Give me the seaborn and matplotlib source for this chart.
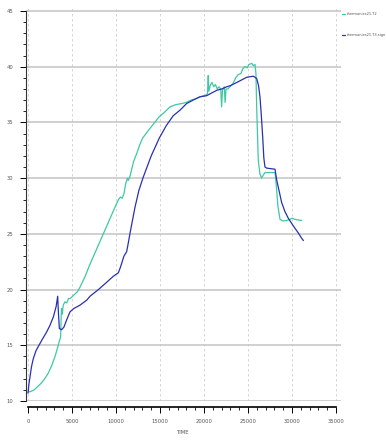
import matplotlib
matplotlib.use("Agg")
import matplotlib.pyplot as plt
from matplotlib.ticker import MultipleLocator
from matplotlib import font_manager
import seaborn as sns
import pandas as pd

t2_time = [0, 300, 700, 1100, 1500, 1900, 2300, 2700, 3070, 3400, 3600, 3700, 3750, 3800, 3900,
           4000, 4200, 4400, 4600, 4800, 5200, 5600, 5900, 6500, 7000, 7500, 8000, 8500, 9000,
           9500, 10000, 10300, 10500, 10700, 10900, 11100, 11300, 11400, 11600, 12000, 12350,
           12700, 13030, 13500, 14000, 14500, 14900, 15500, 16140, 16800, 17500, 18000, 18500,
           19000, 19545, 20000, 20300, 20400, 20480, 20550, 20700, 20900, 21100, 21300, 21500,
           21700, 21900, 22000, 22100, 22300, 22400, 22500, 22700, 22950, 23300, 23600, 23900,
           24200, 24400, 24650, 24900, 25100, 25420, 25600, 25800, 25900, 26000, 26170, 26350,
           26550, 26750, 26930, 27500, 28070, 28200, 28400, 28640, 29010, 29400, 29770, 30000,
           30340, 30700, 31100]
t2_value = [10.8, 10.85, 11.0, 11.3, 11.6, 12.0, 12.5, 13.2, 14.0, 14.9, 15.5, 15.7, 17.0, 18.3, 17.8,
            18.6, 18.9, 18.8, 19.2, 19.2, 19.5, 19.8, 20.2, 21.2, 22.2, 23.1, 24.0, 24.9, 25.8,
            26.7, 27.6, 28.1, 28.3, 28.2, 28.6, 29.5, 30.0, 29.8, 30.2, 31.5, 32.2,
            33.0, 33.6, 34.1, 34.6, 35.1, 35.5, 35.9, 36.4, 36.6, 36.7, 36.8, 37.0,
            37.1, 37.3, 37.4, 37.5, 37.6, 39.2, 37.8, 38.3, 38.6, 38.2, 38.4, 38.0,
            38.2, 38.0, 36.4, 37.9, 38.2, 36.8, 38.0, 38.0, 38.2, 38.5, 39.0, 39.3,
            39.4, 39.8, 40.0, 39.9, 40.2, 40.3, 40.1, 40.2, 39.4, 36.0, 31.6, 30.4,
            30.0, 30.3, 30.5, 30.5, 30.5, 29.5, 27.5, 26.3, 26.15, 26.2, 26.3, 26.4,
            26.3, 26.25, 26.2]

t3_time = [0, 100, 230, 400, 600, 900, 1170, 1600, 2120, 2500, 2880, 3200, 3370, 3450, 3560,
           3830, 4090, 4400, 4770, 5200, 5900, 6670, 7045, 8000, 9000, 9700, 10260, 10500,
           10900, 11210, 11400, 11590, 12160, 12600, 13100, 14000, 14920, 15700, 16500, 17270,
           18030, 19000, 19545, 20300, 21000, 21500, 22000, 22580, 23000, 23500, 24000, 24850,
           25600, 25980, 26200, 26360, 26500, 26670, 26800, 26930, 27120, 28070, 28260, 28550,
           28830, 29200, 29580, 30000, 30340, 30700, 31100, 31300]
t3_value = [10.7, 11.5, 12.2, 13.1, 13.8, 14.5, 14.9, 15.5, 16.2, 16.8, 17.55, 18.5, 19.4, 18.0, 16.5,
            16.4, 16.65, 17.3, 18.0, 18.3, 18.6, 19.05, 19.4, 20.0, 20.7, 21.2, 21.5, 22.0,
            23.0, 23.4, 24.2, 25.05, 27.4, 28.9, 30.1, 32.0, 33.6, 34.7, 35.6, 36.1,
            36.7, 37.1, 37.3, 37.4, 37.7, 37.9, 38.0, 38.2, 38.3, 38.5, 38.7, 39.05,
            39.15, 38.95, 38.3, 37.3, 35.8, 33.7, 31.8, 31.0, 30.9, 30.8, 29.85, 28.8,
            27.8, 27.0, 26.4, 25.9, 25.5, 25.1, 24.6, 24.4]

series_names = ["thermonies21.T2", "thermonies21.T3.sign"]
series_colors = ["#3dc9a3", "#2a30b0"]

df = pd.concat([
    pd.DataFrame({"TIME": t2_time, "value": t2_value, "series": series_names[0]}),
    pd.DataFrame({"TIME": t3_time, "value": t3_value, "series": series_names[1]}),
])

sns.set_theme(style="white")
available = {f.name for f in font_manager.fontManager.ttflist}
narrow = "Liberation Sans Narrow" if "Liberation Sans Narrow" in available else "DejaVu Sans"
plt.rcParams["font.family"] = [narrow, "DejaVu Sans"]
leg_size = 3.6 if narrow != "DejaVu Sans" else 2.6
tick_size = 4.6 if narrow != "DejaVu Sans" else 3.8

W, H = 386, 441
fig = plt.figure(figsize=(W / 100, H / 100), dpi=100)
ax = fig.add_axes([26 / W, (H - 401) / H, (341 - 26) / W, (401 - 8) / H])

sns.lineplot(data=df, x="TIME", y="value", hue="series", palette=series_colors,
             hue_order=series_names, sort=False, estimator=None, linewidth=0.9, ax=ax)

ax.set_xlim(-230, 35570)
ax.set_ylim(10, 45.27)
ax.xaxis.set_major_locator(MultipleLocator(5000))
ax.xaxis.set_minor_locator(MultipleLocator(1000))
ax.yaxis.set_major_locator(MultipleLocator(5))
ax.yaxis.set_minor_locator(MultipleLocator(1))

ax.grid(axis="y", which="major", color="#c4c4c4", linestyle="-", linewidth=1.1)
ax.grid(axis="x", which="major", color="#cfcfcf", linestyle=(0, (3, 3)), linewidth=0.6)
ax.set_axisbelow(True)

ax.tick_params(axis="both", which="major", direction="out", length=4, width=0.7,
               color="black", labelsize=tick_size, labelcolor="#555555", pad=5,
               bottom=True, left=True)
ax.tick_params(axis="both", which="minor", direction="out", length=2.5, width=0.6,
               color="black", bottom=True, left=True)

ax.set_xlabel("TIME", fontsize=tick_size, color="#555555", labelpad=4)
ax.set_ylabel("")

sns.despine(ax=ax, offset={"bottom": 4.3, "left": 0}, trim=True)
ax.spines["bottom"].set_linewidth(1.2)
ax.spines["bottom"].set_color("black")
ax.spines["left"].set_linewidth(0.8)
ax.spines["left"].set_color("#333333")

leg = ax.legend(loc="upper left", bbox_to_anchor=(341 / W, (H - 11) / H),
                bbox_transform=fig.transFigure, frameon=False, fontsize=leg_size,
                handlelength=0.8, handletextpad=0.3, labelspacing=4.7, borderaxespad=0)
for txt in leg.get_texts():
    txt.set_color("#555555")

fig.savefig("out.png", dpi=100)
